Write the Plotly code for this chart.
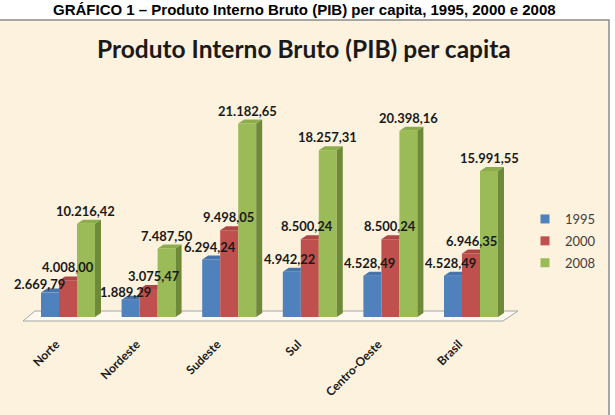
import plotly.graph_objects as go

# ---------------- data ----------------
categories = ["Norte", "Nordeste", "Sudeste", "Sul", "Centro-Oeste", "Brasil"]
years = ["1995", "2000", "2008"]
pib_1995 = [2669.79, 1889.29, 6294.24, 4942.22, 4528.49, 4528.49]
pib_2000 = [4008.00, 3075.47, 9498.05, 8500.24, 8500.24, 6946.35]
pib_2008 = [10216.42, 7487.50, 21182.65, 18257.31, 20398.16, 15991.55]

series = [pib_1995, pib_2000, pib_2008]

# ---------------- style ----------------
front_colors = ["#4F81BD", "#C0504D", "#9BBB59"]
top_colors = ["#4674AD", "#AE4744", "#8CAD4C"]
side_colors = ["#3A6398", "#953B39", "#6E8A38"]
label_xshift = [[-11, -5, -1, -2, -3, -3],
                [0, 5, -1, -3, 0, 0],
                [-1, 0, 0, 0, 0, 0]]
label_yshift = [[-4, -5, 0, 0, 0, 0],
                [0, 0, 0, 0, 0, 0],
                [0, 0, 0, 0, 0, 0]]

W = 0.2233          # bar width (axis units)
offsets = [-W, 0.0, W]
DX = 0.0744         # 3D depth, x (axis units)
DY = 438            # 3D depth, y (value units)
FW = 615
FH = 415


def px_x(p):
    return p / FW


def px_y(p):
    return (FH - p) / FH


def br(v):
    s = f"{v:,.2f}"
    return s.replace(",", "X").replace(".", ",").replace("X", ".")


fig = go.Figure()

# front faces
for s, vals in enumerate(series):
    fig.add_trace(go.Bar(
        x=[i + offsets[s] for i in range(len(categories))],
        y=vals,
        width=W,
        marker=dict(color=front_colors[s], line=dict(width=0)),
        showlegend=False,
        name=years[s],
        hoverinfo="skip",
    ))

# top faces and side faces (pseudo-3D) computed from the data
for s, vals in enumerate(series):
    xs, ys = [], []
    for i, v in enumerate(vals):
        xl = i + offsets[s] - W / 2
        xr = i + offsets[s] + W / 2
        if s < 2:
            px_ = [xl, xr, xr, xl + DX, xl]
        else:
            px_ = [xl, xr, xr + DX, xl + DX, xl]
        py_ = [v, v, v + DY, v + DY, v]
        xs += px_ + [None]
        ys += py_ + [None]
    fig.add_trace(go.Scatter(
        x=xs, y=ys, mode="lines", fill="toself",
        fillcolor=top_colors[s], line=dict(width=0, color=top_colors[s]),
        showlegend=False, hoverinfo="skip",
    ))

xs, ys = [], []
for i, v in enumerate(pib_2008):
    xr = i + offsets[2] + W / 2
    xs += [xr, xr + DX, xr + DX, xr, xr, None]
    ys += [0, DY, v + DY, v, 0, None]
fig.add_trace(go.Scatter(
    x=xs, y=ys, mode="lines", fill="toself",
    fillcolor=side_colors[2], line=dict(width=0, color=side_colors[2]),
    showlegend=False, hoverinfo="skip",
))

# legend entries
for s in range(3):
    fig.add_trace(go.Scatter(
        x=[None], y=[None], mode="markers", name=years[s],
        legendgroup=years[s],
        marker=dict(symbol="square", size=9, color=front_colors[s]),
    ))

# data labels
annotations = []
for s, vals in enumerate(series):
    for i, v in enumerate(vals):
        annotations.append(dict(
            x=i + offsets[s], y=v + DY, xref="x", yref="y",
            text=br(v), showarrow=False, yanchor="bottom",
            xshift=label_xshift[s][i], yshift=label_yshift[s][i], borderpad=0,
            font=dict(family="Lato", size=13, color="#1a1a1a", weight="bold"),
        ))

annotations.append(dict(
    x=px_x(304), y=px_y(10), xref="paper", yref="paper",
    text="<b>GRÁFICO 1 – Produto Interno Bruto (PIB) per capita, 1995, 2000 e 2008</b>",
    showarrow=False, yanchor="middle",
    font=dict(family="Liberation Sans", size=15, color="#000000"),
))
annotations.append(dict(
    x=px_x(304), y=px_y(48), xref="paper", yref="paper",
    text="<b>Produto Interno Bruto (PIB) per capita</b>",
    showarrow=False, yanchor="middle",
    font=dict(family="Lato", size=24.5, color="#1a1a1a"),
))

# floor
n = len(categories)
fl_x = [-0.558, n - 1 + 0.397, n - 1 + 0.583, -0.409]
fl_y = [-438, -438, 657, 657]
floor_path = "M {},{} L {},{} L {},{} L {},{} Z".format(
    fl_x[0], fl_y[0], fl_x[1], fl_y[1], fl_x[2], fl_y[2], fl_x[3], fl_y[3])

shapes = [
    dict(type="rect", xref="paper", yref="paper",
         x0=-0.02, x1=px_x(609), y0=-0.02, y1=px_y(20),
         fillcolor="#FCF2DE", line=dict(color="#8C8C8C", width=1.5), layer="below"),
    dict(type="path", xref="x", yref="y", path=floor_path,
         fillcolor="#FEF9EE", line=dict(color="#A6A6A6", width=1), layer="below"),
]

fig.update_layout(
    width=FW, height=FH,
    margin=dict(l=0, r=0, t=0, b=0),
    paper_bgcolor="#FFFFFF",
    plot_bgcolor="rgba(0,0,0,0)",
    barmode="overlay",
    showlegend=True,
    legend=dict(
        x=px_x(525), y=px_y(204), xanchor="left", yanchor="top",
        bgcolor="rgba(0,0,0,0)", traceorder="grouped", tracegroupgap=2,
        font=dict(family="Lato", size=13, color="#404040"),
    ),
    xaxis=dict(
        domain=[px_x(20), px_x(530)],
        range=[-0.5955, 5.732],
        tickvals=list(range(n)), ticktext=categories,
        tickangle=-45, showgrid=False, zeroline=False, showline=False,
        ticks="", automargin=False, ticklabelshift=-12, ticklabelstandoff=4,
        tickfont=dict(family="Lato", size=12, color="#1a1a1a", weight="bold"),
    ),
    yaxis=dict(
        domain=[px_y(330), px_y(100)],
        range=[-1423.5, 23761.5],
        visible=False, showgrid=False, zeroline=False, automargin=False,
    ),
    annotations=annotations,
    shapes=shapes,
)

fig.write_html("out.html")
